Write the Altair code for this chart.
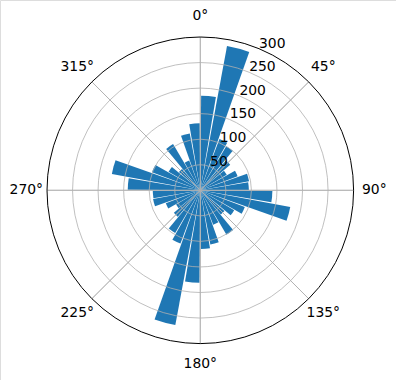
import altair as alt
import pandas as pd

# ---- data ----
directions = list(range(0, 360, 10))          # bin start angle (deg, clockwise from north)
counts = [185, 287, 107, 100, 77, 60, 78, 97, 95,
          141, 179, 93, 77, 62, 101, 72, 108, 115,
          181, 268, 111, 97, 68, 55, 72, 94, 93,
          142, 176, 101, 72, 55, 105, 62, 113, 131]
ring_values = [50, 100, 150, 200, 250]
outer_value = [300]
radial_ticks = [50, 100, 150, 200, 250, 300]
spoke_angles = [0, 45, 90, 135, 180, 225, 270, 315]
angle_labels = [f"{a}°" for a in spoke_angles]

bar_df = pd.DataFrame({"dir": directions, "count": counts})
ring_df = pd.DataFrame({"r": ring_values, "t0": 0, "t1": 360})
outer_df = pd.DataFrame({"r": outer_value, "t0": 0, "t1": 360})
spoke_df = pd.DataFrame({"a": spoke_angles, "r": 300})
alabel_df = pd.DataFrame({"a": spoke_angles, "label": angle_labels})
rlabel_df = pd.DataFrame({"r": radial_ticks, "label": [str(v) for v in radial_ticks]})

TWO_PI = 6.283185307179586
theta_scale = alt.Scale(domain=[0, 360], range=[0, TWO_PI])
r_scale = alt.Scale(type="linear", domain=[0, 300], range=[0, 153.3], zero=True)
CX, CY = 200.3, 190.3
FONT = "DejaVu Sans"
FS = 13.9

bars = alt.Chart(bar_df).transform_calculate(
    t0="datum.dir + 0.5", t1="datum.dir + 9.5"
).mark_arc(color="#1f77b4").encode(
    theta=alt.Theta("t0:Q", scale=theta_scale),
    theta2="t1:Q",
    radius=alt.Radius("count:Q", scale=r_scale),
    radius2=alt.value(0),
    x=alt.value(CX), y=alt.value(CY),
)

rings = alt.Chart(ring_df).mark_arc(
    fillOpacity=0, stroke="#b0b0b0", strokeWidth=0.8
).encode(
    theta=alt.Theta("t0:Q", scale=theta_scale),
    theta2="t1:Q",
    radius=alt.Radius("r:Q", scale=r_scale),
    radius2=alt.value(0),
    x=alt.value(CX), y=alt.value(CY),
)

spokes = alt.Chart(spoke_df).transform_calculate(
    a2="datum.a + 0.01"
).mark_arc(
    fillOpacity=0, stroke="#b0b0b0", strokeWidth=0.8
).encode(
    theta=alt.Theta("a:Q", scale=theta_scale),
    theta2="a2:Q",
    radius=alt.Radius("r:Q", scale=r_scale),
    radius2=alt.value(0),
    x=alt.value(CX), y=alt.value(CY),
)

outer = alt.Chart(outer_df).mark_arc(
    fillOpacity=0, stroke="black", strokeWidth=1
).encode(
    theta=alt.Theta("t0:Q", scale=theta_scale),
    theta2="t1:Q",
    radius=alt.Radius("r:Q", scale=r_scale),
    radius2=alt.value(0),
    x=alt.value(CX), y=alt.value(CY),
)

alabels = alt.Chart(alabel_df).mark_text(
    font=FONT, fontSize=FS, color="black", align="center", baseline="middle"
).encode(
    theta=alt.Theta("a:Q", scale=theta_scale),
    radius=alt.value(174),
    text="label:N",
    x=alt.value(CX), y=alt.value(CY),
)

rlabels = alt.Chart(rlabel_df).transform_calculate(
    a="22.5"
).mark_text(
    font=FONT, fontSize=FS, color="black", align="left", baseline="bottom", dy=2
).encode(
    theta=alt.Theta("a:Q", scale=theta_scale),
    radius=alt.Radius("r:Q", scale=r_scale),
    text="label:N",
    x=alt.value(CX), y=alt.value(CY),
)

chart = alt.layer(bars, rings, spokes, outer, alabels, rlabels).properties(
    width=396, height=380, autosize=alt.AutoSizeParams(type="none"), padding=0
).configure_view(stroke=None).configure(background="white")

chart.save("out.html", embed_options={"renderer": "svg", "actions": False})
